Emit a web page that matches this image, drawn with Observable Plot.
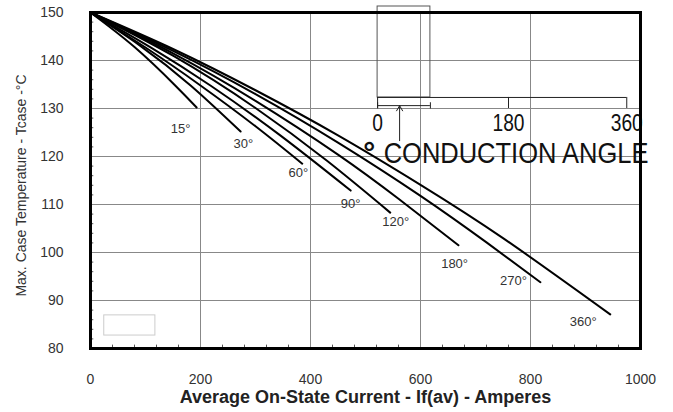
<!DOCTYPE html>
<html>
<head>
<meta charset="utf-8">
<script src="https://cdn.jsdelivr.net/npm/d3@7"></script>
<script src="https://cdn.jsdelivr.net/npm/@observablehq/plot@0.6"></script>
<style>
  html, body { margin: 0; padding: 0; background: #fff; }
  #chart { width: 673px; height: 412px; }
</style>
</head>
<body>
<div id="chart"></div>
<script>
// ---- data ----
const angles = ["15°", "30°", "60°", "90°", "120°", "180°", "270°", "360°"];
const curve15  = [[0,150],[80,142.8],[154,134.8],[193,130.2]];
const curve30  = [[0,150],[90,143.1],[182,134.8],[273,125.2]];
const curve60  = [[0,150],[100,142.7],[200,134.8],[300,126.3],[385,118.5]];
const curve90  = [[0,150],[110,142.7],[218,134.8],[345,124.4],[473,112.9]];
const curve120 = [[0,150],[150,141.0],[300,130.1],[430,119.1],[545,108.3]];
const curve180 = [[0,150],[150,141.5],[300,131.6],[450,120.4],[560,111.2],[669,101.5]];
const curve270 = [[0,150],[150,142.0],[300,133.0],[450,122.9],[600,111.8],[720,102.1],[818,93.8]];
const curve360 = [[0,150],[150,142.4],[300,133.8],[450,124.4],[600,114.1],[750,103.0],[945,87.1]];
const curves = [curve15, curve30, curve60, curve90, curve120, curve180, curve270, curve360];
// label anchor points (data units)
const labelI = [164, 278, 378, 473, 555, 662, 769, 896];
const labelT = [125.8, 122.7, 116.7, 110.2, 106.3, 97.7, 94.2, 85.6];

const xTicks = [0, 200, 400, 600, 800, 1000];
const yTicks = [80, 90, 100, 110, 120, 130, 140, 150];
const xGrid = [200, 400, 600, 800];
const yGrid = [90, 100, 110, 120, 130, 140];
const xMinor = [40, 80, 120, 160, 240, 280, 320, 360, 440, 480, 520, 560, 640, 680, 720, 760, 840, 880, 920, 960];
const yMinor = [82, 84, 86, 88, 92, 94, 96, 98, 102, 104, 106, 108, 112, 114, 116, 118, 122, 124, 126, 128, 132, 134, 136, 138, 142, 144, 146, 148];

const xLabel = "Average On-State Current - If(av) - Amperes";
const yLabel = "Max. Case Temperature - Tcase -°C";

// conduction-angle inset (in data units of the main chart)
const insetTickLabels = ["0", "180", "360"];
const insetTickI = [522, 760, 975];
const insetTickLabelT = 127.0;
const insetBox = {x1: 522, x2: 618, y1: 132.3, y2: 151.25};
const insetScaleT = 132.3;
const insetSpanT = 130.6;
const insetArrow = {x: 562, yFrom: 123.3, yTo: 130.6};
const insetDegree = "°";
const insetDegreeAt = {x: 507, y: 118.75};
const insetTitle = "CONDUCTION ANGLE";
const insetTitleAt = {x: 533, y: 118.75};
const emptyBox = {x1: 25, x2: 118, y1: 82.7, y2: 86.9};

// ---- build tables ----
const rows = curves.flatMap((c, k) => c.map(([I, T]) => ({angle: angles[k], I, T})));
const labels = angles.map((a, k) => ({a, I: labelI[k], T: labelT[k]}));
const sans = "'Liberation Sans', Arial, Helvetica, sans-serif";

const chart = Plot.plot({
  width: 673,
  height: 412,
  marginLeft: 90,
  marginRight: 33,
  marginTop: 12,
  marginBottom: 64,
  style: {fontFamily: sans, fontSize: "14px", color: "#333", background: "#fff"},
  x: {domain: [0, 1000]},
  y: {domain: [80, 150]},
  marks: [
    Plot.gridX(xGrid, {stroke: "#888", strokeOpacity: 1}),
    Plot.gridY(yGrid, {stroke: "#888", strokeOpacity: 1}),
    Plot.ruleY(yMinor, {x1: 0, x2: 6, stroke: "#555"}),
    Plot.ruleX(xMinor, {y1: 80, y2: 80.7, stroke: "#555"}),
    Plot.axisX(xTicks, {tickSize: 0, tickPadding: 26, label: null, tickFormat: d => String(d), fontSize: 14, fill: "#333"}),
    Plot.axisY(yTicks, {tickSize: 0, tickPadding: 27, label: null, tickFormat: d => String(d), fontSize: 14, fill: "#333"}),
    Plot.text([xLabel], {frameAnchor: "bottom", dy: 54, fontWeight: "bold", fontSize: 18, fill: "#222"}),
    Plot.text([yLabel], {frameAnchor: "left", textAnchor: "middle", rotate: -90, dx: -69, dy: 5, fontSize: 14, fill: "#333"}),
    // empty light box
    Plot.rect([emptyBox], {x1: "x1", x2: "x2", y1: "y1", y2: "y2", fill: "none", stroke: "#ccc"}),
    // inset
    Plot.rect([insetBox], {x1: "x1", x2: "x2", y1: "y1", y2: "y2", fill: "none", stroke: "#555"}),
    Plot.ruleY([insetScaleT], {x1: insetTickI[0], x2: insetTickI[2], stroke: "#222"}),
    Plot.ruleX(insetTickI, {y1: insetScaleT, y2: 130.0, stroke: "#222"}),
    Plot.ruleY([insetSpanT], {x1: insetBox.x1, x2: insetBox.x2, stroke: "#222"}),
    Plot.ruleX([insetBox.x1, insetBox.x2], {y1: 131.2, y2: 129.9, stroke: "#222"}),
    Plot.arrow([insetArrow], {x1: "x", y1: "yFrom", x2: "x", y2: "yTo", stroke: "#222", strokeWidth: 1, headLength: 9}),
    Plot.text(insetTickLabels, {x: (d, i) => insetTickI[i], y: insetTickLabelT, fontSize: 24, fill: "#111"}),
    Plot.text([insetDegree], {x: insetDegreeAt.x, y: insetDegreeAt.y, lineAnchor: "bottom", fontSize: 30, fontWeight: "bold", fill: "#111"}),
    Plot.text([insetTitle], {x: insetTitleAt.x, y: insetTitleAt.y, textAnchor: "start", lineAnchor: "bottom", fontSize: 30, fill: "#111"}),
    // curves
    Plot.line(rows, {x: "I", y: "T", z: "angle", curve: "natural", stroke: "#000", strokeWidth: 2}),
    Plot.text(labels, {x: "I", y: "T", text: "a", fontSize: 13, fill: "#333"}),
    Plot.frame({stroke: "#000", strokeWidth: 3})
  ]
});

// condense the inset lettering horizontally (the reference uses a narrow face)
const squeeze = new Map([["0", 0.8], ["180", 0.8], ["360", 0.8], [insetTitle, 0.85]]);
d3.select(chart).selectAll("text").each(function () {
  if (this.querySelector("tspan")) return;
  const s = squeeze.get(this.textContent);
  if (!s) return;
  if (this.textContent === "0" && this.closest("g[aria-label='x-axis tick label']")) return;
  const tr = this.getAttribute("transform");
  if (tr) {
    this.setAttribute("transform", tr + ` scale(${s},1)`);
  } else {
    const x = +this.getAttribute("x") || 0, y = +this.getAttribute("y") || 0;
    this.setAttribute("x", 0); this.setAttribute("y", 0);
    this.setAttribute("transform", `translate(${x},${y}) scale(${s},1)`);
  }
});
document.getElementById("chart").appendChild(chart);
</script>
</body>
</html>
